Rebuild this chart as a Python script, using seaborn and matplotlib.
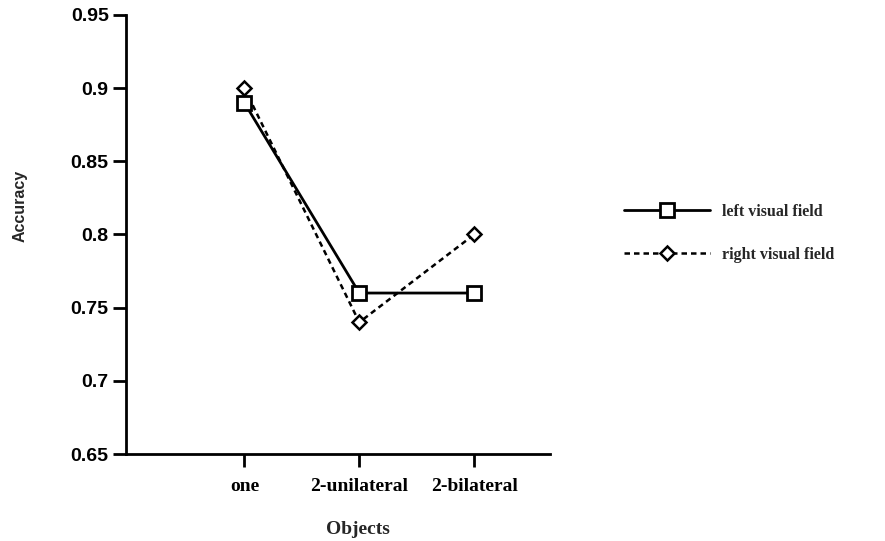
import matplotlib
matplotlib.use("Agg")
import matplotlib.pyplot as plt
import seaborn as sns
import pandas as pd
from matplotlib.lines import Line2D

categories = ["one", "2-unilateral", "2-bilateral"]
left_field = [0.89, 0.76, 0.76]
right_field = [0.90, 0.74, 0.80]
y_ticks = [0.65, 0.7, 0.75, 0.8, 0.85, 0.9, 0.95]
y_tick_labels = ["0.65", "0.7", "0.75", "0.8", "0.85", "0.9", "0.95"]

sns.set_theme(style="ticks")
plt.rcParams["font.family"] = ["Liberation Serif", "DejaVu Serif"]

df = pd.DataFrame({
    "Objects": categories * 2,
    "pos": list(range(len(categories))) * 2,
    "Accuracy": left_field + right_field,
    "field": ["left visual field"] * 3 + ["right visual field"] * 3,
})

fig = plt.figure(figsize=(8.85, 5.41), dpi=100)
ax = fig.add_axes([0.1424, 0.1608, 0.4791, 0.8115])

left_df = df[df["field"] == "left visual field"]
right_df = df[df["field"] == "right visual field"]

sns.lineplot(data=right_df, x="pos", y="Accuracy", ax=ax, color="black",
             linewidth=1.8, marker="D", markersize=7, markerfacecolor="white",
             markeredgecolor="black", markeredgewidth=1.8, linestyle=(0, (2.2, 1.6)),
             legend=False)
sns.lineplot(data=left_df, x="pos", y="Accuracy", ax=ax, color="black",
             linewidth=2.0, marker="s", markersize=10, markerfacecolor="white",
             markeredgecolor="black", markeredgewidth=2.0, legend=False)

ax.set_xlim(-1.03, 2.66)
ax.set_ylim(0.65, 0.95)
ax.set_xticks(range(len(categories)))
ax.set_xticklabels(categories)
ax.set_yticks(y_ticks)
ax.set_yticklabels(y_tick_labels)

for side in ["top", "right"]:
    ax.spines[side].set_visible(False)
for side in ["left", "bottom"]:
    ax.spines[side].set_linewidth(2.0)
    ax.spines[side].set_color("black")

ax.tick_params(axis="both", direction="out", length=9.5, width=2.0, colors="black")
ax.tick_params(axis="x", pad=7.5, labelsize=14)
ax.tick_params(axis="y", labelsize=14, pad=3)
for lab in ax.get_xticklabels():
    lab.set_fontweight("bold")
for lab in ax.get_yticklabels():
    lab.set_fontweight("bold")
    lab.set_family(["Liberation Sans", "DejaVu Sans"])

ax.set_xlabel("")
ax.set_ylabel("")
fig.text(20 / 885, 1 - 206 / 541, "Accuracy", ha="center", va="center",
         rotation=90, fontsize=11.5, fontweight="bold",
         family=["Liberation Sans", "DejaVu Sans"])
fig.text(358 / 885, 1 - 530 / 541, "Objects", ha="center", va="center",
         fontsize=14, fontweight="bold")

handles = [
    Line2D([], [], color="black", linewidth=2.0, marker="s", markersize=10,
           markerfacecolor="white", markeredgewidth=2.0),
    Line2D([], [], color="black", linewidth=1.8, linestyle=(0, (2.2, 1.6)),
           marker="D", markersize=7, markerfacecolor="white", markeredgewidth=1.8),
]
fig.legend(handles, ["left visual field", "right visual field"],
           loc="center left", bbox_to_anchor=(0.689, 0.569), frameon=False,
           handlelength=5.4, handletextpad=0.7, labelspacing=1.7,
           prop={"family": "Liberation Serif", "size": 11.5, "weight": "bold"})

fig.savefig("out.png", dpi=100)
